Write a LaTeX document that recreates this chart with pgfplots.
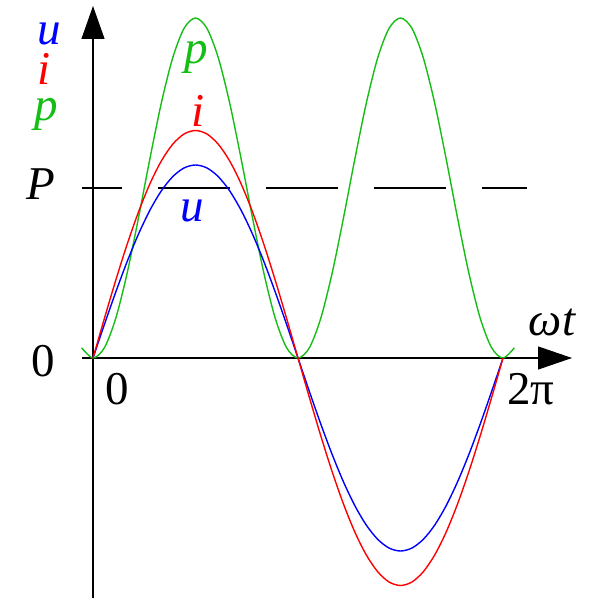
\documentclass[border=0pt]{standalone}
\usepackage{fontspec}
\setmainfont{Liberation Serif}
\usepackage{pgfplots}
\pgfplotsset{compat=1.18}
\usetikzlibrary{arrows.meta}
\definecolor{pgreen}{RGB}{20,190,20}
\tikzset{lab/.style={font=\fontsize{47}{50}\selectfont, inner sep=0pt, anchor=base}}
\begin{document}
\begin{tikzpicture}
\begin{axis}[
  x=1.13889pt, y=1pt,
  xmin=-81.66, xmax=445.17, ymin=-242, ymax=358,
  hide axis, clip=false,
]
\path[draw=none] (rel axis cs:0,0) rectangle (rel axis cs:1,1);
% axes
\addplot[black, line width=1.1pt, -{Triangle[length=33pt,width=23pt]}] coordinates {(0,-240) (0,352)};
\addplot[black, line width=1.1pt, -{Triangle[length=34pt,width=23pt]}] coordinates {(-9.66,0) (420.6,0)};
% P dashed
\addplot[black, line width=2pt, dash pattern=on 72pt off 36pt, dash phase=32pt] coordinates {(-9.66,170) (381.1,170)};
% p
\addplot[pgreen, line width=1.4pt, smooth] coordinates {
(-10,10.25)(0,0)(10,10.25)(20,39.77)(30,85)(40,140.48)(50,199.52)(60,255)(70,300.23)(80,329.75)(90,340)
(100,329.75)(110,300.23)(120,255)(130,199.52)(140,140.48)(150,85)(160,39.77)(170,10.25)(180,0)
(190,10.25)(200,39.77)(210,85)(220,140.48)(230,199.52)(240,255)(250,300.23)(260,329.75)(270,340)
(280,329.75)(290,300.23)(300,255)(310,199.52)(320,140.48)(330,85)(340,39.77)(350,10.25)(360,0)(370,10.25)};
% u
\addplot[blue, line width=1.4pt, smooth] coordinates {
(0,0)(10,33.51)(20,66.01)(30,96.5)(40,124.06)(50,147.85)(60,167.14)(70,181.36)(80,190.07)(90,193)
(100,190.07)(110,181.36)(120,167.14)(130,147.85)(140,124.06)(150,96.5)(160,66.01)(170,33.51)(180,0)
(190,-33.51)(200,-66.01)(210,-96.5)(220,-124.06)(230,-147.85)(240,-167.14)(250,-181.36)(260,-190.07)(270,-193)
(280,-190.07)(290,-181.36)(300,-167.14)(310,-147.85)(320,-124.06)(330,-96.5)(340,-66.01)(350,-33.51)(360,0)};
% i
\addplot[red, line width=1.4pt, smooth] coordinates {
(0,0)(10,39.5)(20,77.81)(30,113.75)(40,146.23)(50,174.28)(60,197.02)(70,213.78)(80,224.04)(90,227.5)
(100,224.04)(110,213.78)(120,197.02)(130,174.28)(140,146.23)(150,113.75)(160,77.81)(170,39.5)(180,0)
(190,-39.5)(200,-77.81)(210,-113.75)(220,-146.23)(230,-174.28)(240,-197.02)(250,-213.78)(260,-224.04)(270,-227.5)
(280,-224.04)(290,-213.78)(300,-197.02)(310,-174.28)(320,-146.23)(330,-113.75)(340,-77.81)(350,-39.5)(360,0)};
% labels
\node[lab, blue] at (axis cs:-38.6,313) {\itshape u};
\node[lab, red] at (axis cs:-43.0,273) {\itshape i};
\node[lab, pgreen] at (axis cs:-41.3,237) {\itshape p};
\node[lab] at (axis cs:-45.6,158) {\itshape P};
\node[lab] at (axis cs:-43.9,-19) {0};
\node[lab] at (axis cs:21.1,-47) {0};
\node[lab] at (axis cs:384.6,-47) {2π};
\node[lab] at (axis cs:403.0,22) {\itshape ωt};
\node[lab, pgreen] at (axis cs:90.4,294) {\itshape p};
\node[lab, red] at (axis cs:92.2,231) {\itshape i};
\node[lab, blue] at (axis cs:86.9,136) {\itshape u};
\end{axis}
\end{tikzpicture}
\end{document}
